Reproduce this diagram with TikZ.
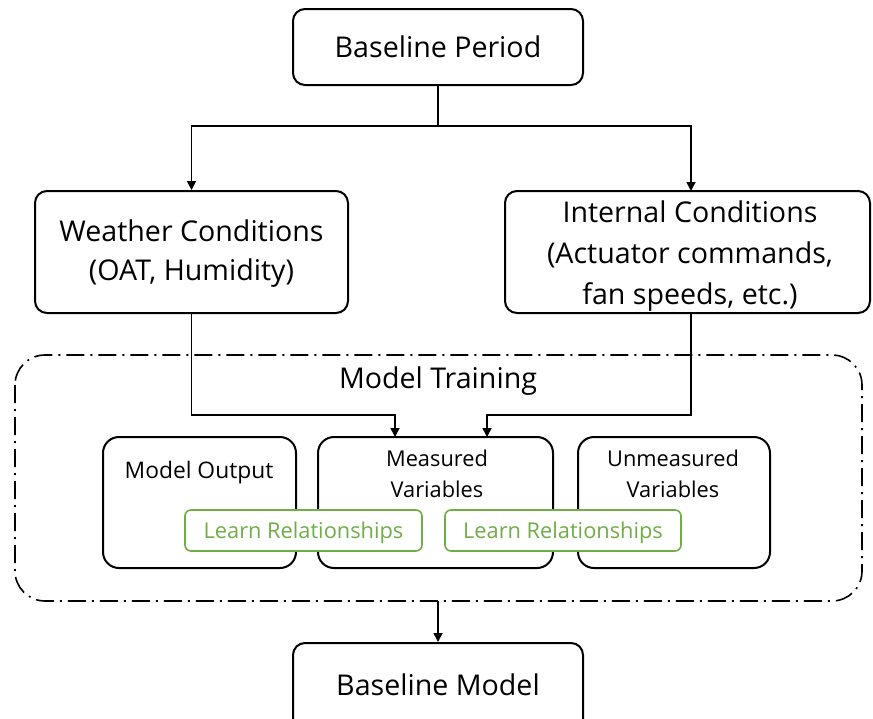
\documentclass[tikz,border=0pt]{standalone}
\usepackage{fontspec}
\setmainfont{Open Sans}
\usetikzlibrary{arrows.meta}
\definecolor{lgreen}{RGB}{112,173,71}
\tikzset{
  x=1pt,y=-1pt,
  box/.style={draw=black,line width=2pt,rounded corners=12pt,fill=white,inner sep=0pt},
  smallbox/.style={draw=black,line width=2pt,rounded corners=16pt,fill=white,inner sep=0pt},
  greenbox/.style={draw=lgreen,line width=1.6pt,rounded corners=6pt,fill=white,inner sep=0pt,text=lgreen},
  conn/.style={line width=1.7pt,-{Triangle[length=9pt,width=9pt]}},
  bigtxt/.style={font=\fontsize{28.6}{39}\selectfont},
  smalltxt/.style={font=\fontsize{21.8}{31}\selectfont},
}
\begin{document}
\begin{tikzpicture}
\useasboundingbox[fill=white] (0,0) rectangle (873,718);
% container
\draw[line width=1.6pt,rounded corners=30pt,dash pattern=on 18pt off 6pt on 2pt off 6pt] (15,355) rectangle (862,601);
\node[bigtxt] (mt) at (438,381) {Model Training};
% top
\node[box,minimum width=290pt,minimum height=76pt,bigtxt] (bp) at (438,47) {Baseline Period};
\node[box,minimum width=313pt,minimum height=122pt,bigtxt,align=center] (wc) at (191.5,252) {};
\node[bigtxt,align=center] (wct) at (191.5,254) {Weather Conditions\\(OAT, Humidity)};
\node[box,minimum width=365pt,minimum height=122pt] (ic) at (687.5,252) {};
\node[align=center,font=\fontsize{28.6}{41}\selectfont] (ict) at (690,256) {Internal Conditions\\(Actuator commands,\\fan speeds, etc.)};
\coordinate (j) at (438,126);
\draw[line width=1.7pt] (bp.south) -- (j);
\draw[conn] (j) -| (wc.north);
\draw[conn] (j) -| (691,191);
% inner boxes
\node[smallbox,minimum width=193pt,minimum height=131pt] (mo) at (199.5,502.5) {};
\node[smallbox,minimum width=235pt,minimum height=131pt] (mv) at (435.5,502.5) {};
\node[smallbox,minimum width=192pt,minimum height=131pt] (uv) at (674,502.5) {};
\node[smalltxt,font=\fontsize{22.8}{31}\selectfont] (mot) at (199,473) {Model Output};
\node[smalltxt,align=center] (mvt) at (437,474) {Measured\\Variables};
\node[smalltxt,align=center] (uvt) at (673,474) {Unmeasured\\Variables};
\node[greenbox,minimum width=237pt,minimum height=41pt] (g1) at (303.5,530.5) {};
\node[greenbox,minimum width=236pt,minimum height=41pt] (g2) at (563,530.5) {};
\node[smalltxt,text=lgreen] (g1t) at (303.5,532.5) {Learn Relationships};
\node[smalltxt,text=lgreen] (g2t) at (563,532.5) {Learn Relationships};
% connectors into measured
\draw[conn] (wc.south) |- (395,415) -- (395,437);
\draw[conn] (691,313) |- (487,415) -- (487,437);
% bottom
\node[box,minimum width=290pt,minimum height=90pt,anchor=north] (bm) at (438,642) {};
\node[bigtxt] (bmt) at (438,685) {Baseline Model};
\coordinate (cb) at (438,601);
\draw[conn] (cb) -- (bm.north);
\end{tikzpicture}
\end{document}
